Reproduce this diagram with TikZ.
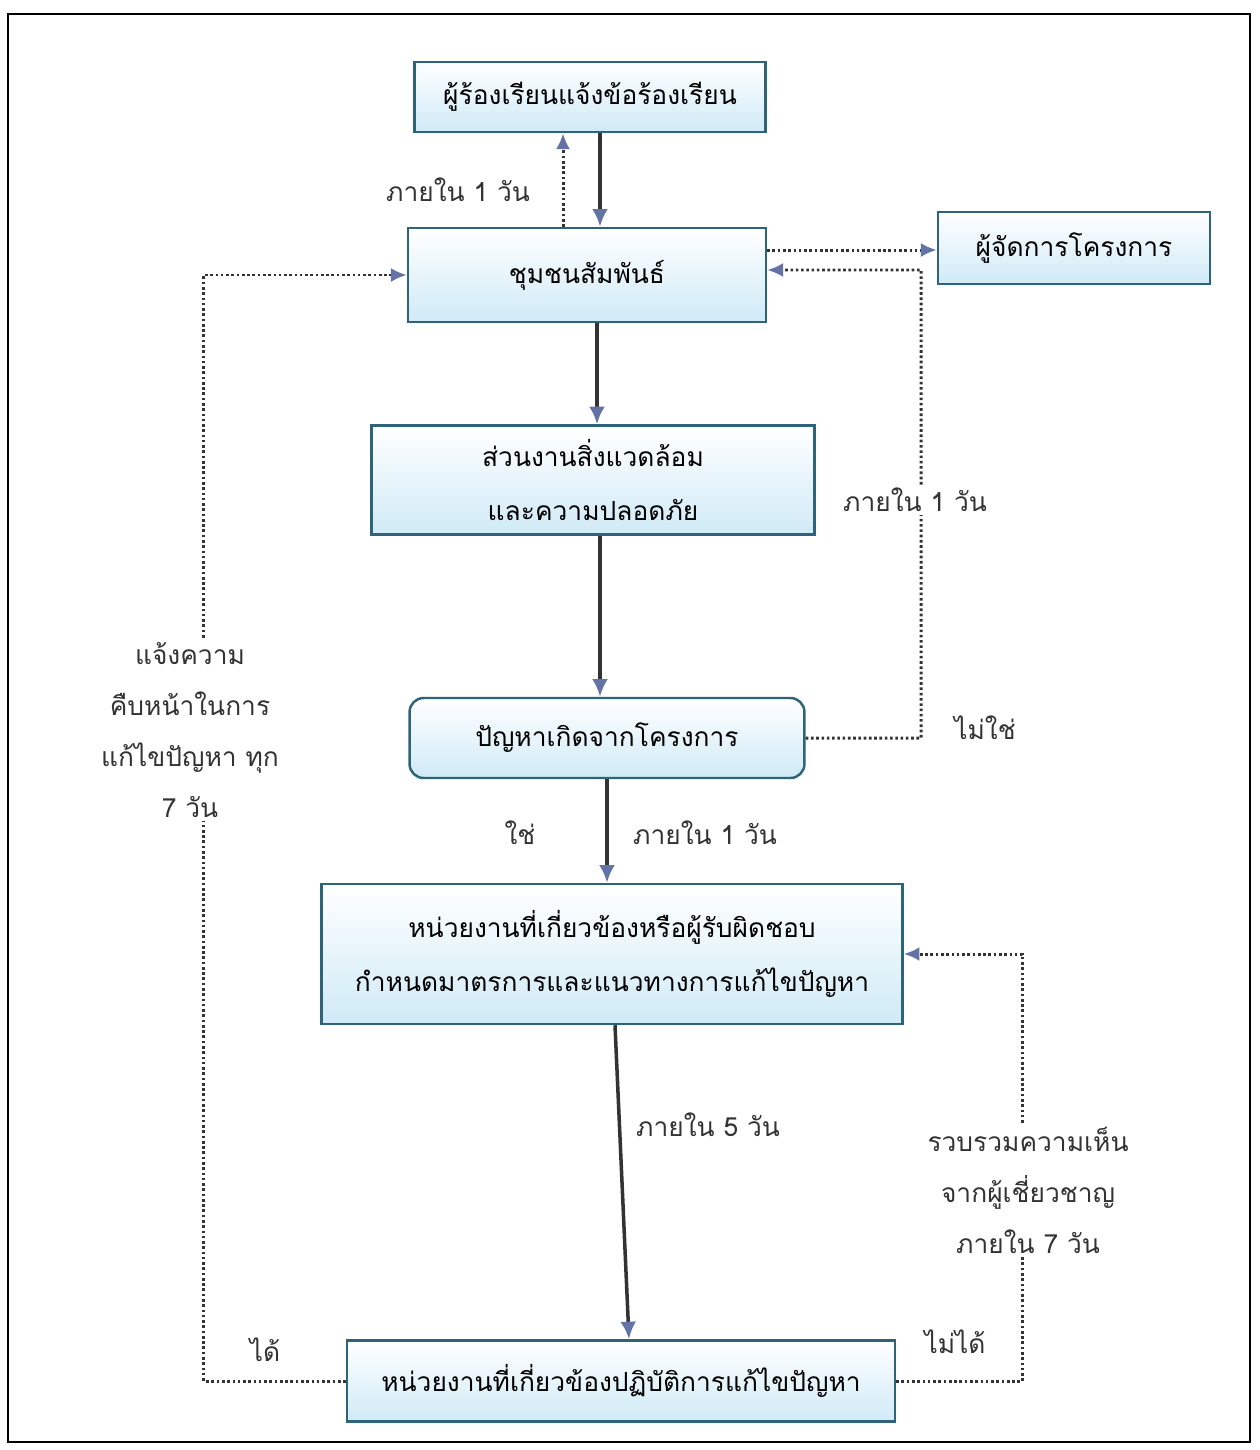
\documentclass[tikz,border=0pt]{standalone}
\usepackage{fontspec}
\newfontfamily\thaifont[Script=Thai]{Loma}
\usetikzlibrary{arrows.meta,positioning,calc}
\definecolor{boxfill}{RGB}{208,234,246}
\definecolor{boxline}{RGB}{45,100,120}
\definecolor{tipblue}{RGB}{100,115,165}

\begin{document}
\begin{tikzpicture}[x=0.02cm,y=-0.02cm,
  box/.style={draw=boxline,line width=1.4pt,top color=white,bottom color=boxfill,
    align=center,inner sep=2pt,font=\thaifont\fontsize{15}{31}\selectfont},
  flow/.style={line width=2pt,black!80,-{Latex[length=10pt,width=9pt,color=tipblue]}},
  back/.style={line width=1.7pt,black!80,dash pattern=on 1.5pt off 1.5pt,
    -{Latex[length=9pt,width=8pt,color=tipblue]}},
  lbl/.style={font=\thaifont\fontsize{15}{29}\selectfont,text=black!80,align=center,inner sep=2pt}]
\useasboundingbox (0,0) rectangle (1259,1450);
\draw[line width=1.2pt] (8,14) rectangle (1250,1442);

% boxes
\node[box,minimum width=7.02cm,minimum height=1.4cm] (req) at (590,97) {ผู้ร้องเรียนแจ้งข้อร้องเรียน};
\node[box,minimum width=7.16cm,minimum height=1.88cm] (crm) at (587,275) {ชุมชนสัมพันธ์};
\node[box,minimum width=5.44cm,minimum height=1.44cm] (mgr) at (1074,248) {ผู้จัดการโครงการ};
\node[box,minimum width=8.86cm,minimum height=2.18cm] (env) at (593,480) {ส่วนงานสิ่งแวดล้อม\\และความปลอดภัย};
\node[box,rounded corners=8pt,minimum width=7.9cm,minimum height=1.6cm] (prob) at (607,738) {ปัญหาเกิดจากโครงการ};
\node[box,minimum width=11.62cm,minimum height=2.8cm] (plan) at (612,954) {หน่วยงานที่เกี่ยวข้องหรือผู้รับผิดชอบ\\กำหนดมาตรการและแนวทางการแก้ไขปัญหา};
\node[box,minimum width=10.96cm,minimum height=1.62cm] (fix) at (621,1381) {หน่วยงานที่เกี่ยวข้องปฏิบัติการแก้ไขปัญหา};

% main flow
\draw[flow] ([xshift=0.2cm]req.south) -- ([xshift=0.2cm]req.south |- crm.north);
\draw[flow] ([xshift=0.2cm]crm.south) -- ([xshift=0.2cm]crm.south |- env.north);
\draw[flow] ([xshift=0.14cm]env.south) -- ([xshift=0.14cm]env.south |- prob.north);
\draw[flow] (prob.south) -- (prob.south |- plan.north);
\draw[flow] ([xshift=0.06cm]plan.south) -- ([xshift=0.16cm]fix.north);

% feedback loops
\coordinate (crmr) at ([yshift=0.5cm]crm.east);
\draw[back] ([xshift=-0.48cm]crm.north) -- ([xshift=-0.48cm]crm.north |- req.south);
\draw[back] (crmr) -- (mgr.west |- crmr);
\draw[back] (prob.east) -| ($(crm.east)+(154,-5)$) -- ([yshift=0.1cm]crm.east);
\draw[back] (fix.west) -| ($(crm.west)+(-203,0)$) -- (crm.west);
\draw[back] (fix.east) -| ($(plan.east)+(119,0)$) -- (plan.east);

% labels
\node[lbl] (t1) at (458,190) {ภายใน 1 วัน};
\node[lbl,fill=white] (t2) at (915,500) {ภายใน 1 วัน};
\node[lbl] (no) at (985,728) {ไม่ใช่};
\node[lbl] (yes) at (520,833) {ใช่};
\node[lbl] (t3) at (705,833) {ภายใน 1 วัน};
\node[lbl] (t5) at (708,1125) {ภายใน 5 วัน};
\node[lbl,fill=white] (rev) at (1028,1190) {รวบรวมความเห็น\\จากผู้เชี่ยวชาญ\\ภายใน 7 วัน};
\node[lbl] (cant) at (955,1342) {ไม่ได้};
\node[lbl] (can) at (265,1350) {ได้};
\node[lbl,fill=white] (rep) at (190,730) {แจ้งความ\\คืบหน้าในการ\\แก้ไขปัญหา ทุก\\7 วัน};
\end{tikzpicture}
\end{document}
